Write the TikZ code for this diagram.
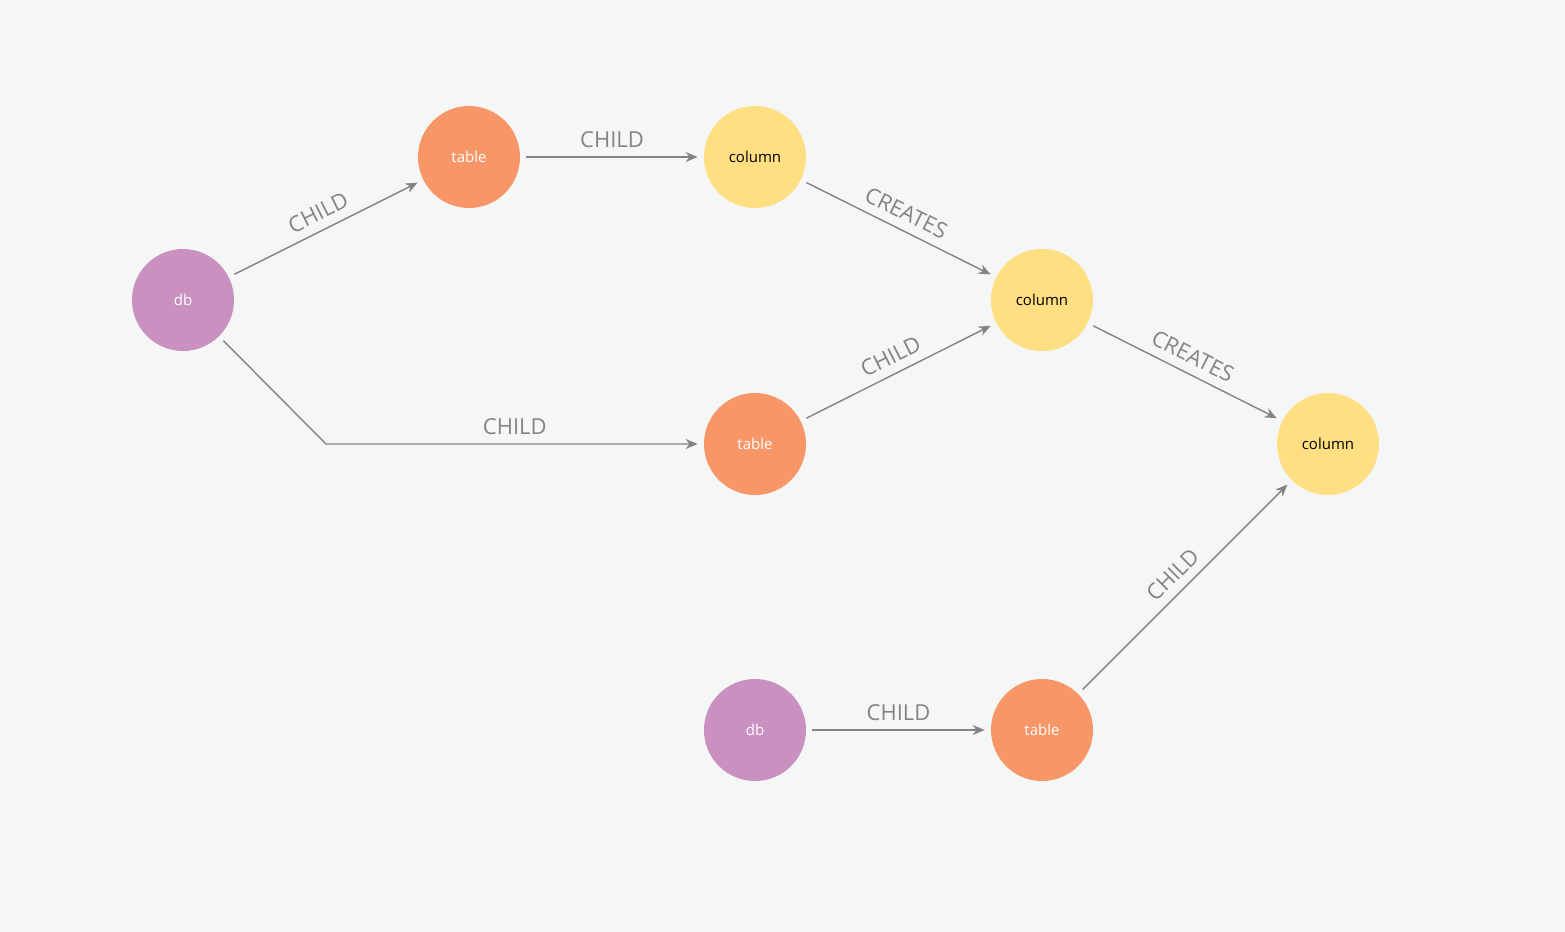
\documentclass[tikz,border=0pt]{standalone}
\usepackage{fontspec}
\setmainfont{Open Sans}
\usetikzlibrary{arrows.meta}
\definecolor{bgcol}{HTML}{F5F6F6}
\definecolor{dbcol}{HTML}{C990C0}
\definecolor{tablecol}{HTML}{F79767}
\definecolor{columncol}{HTML}{FFDF81}
\definecolor{edgecol}{HTML}{848484}
\begin{document}
\begin{tikzpicture}[
    x=0.5pt, y=-0.5pt,
    circ/.style={circle,minimum size=51pt,inner sep=0pt,font=\fontsize{7.5}{9}\selectfont},
    db/.style={circ,fill=dbcol,text=white},
    tbl/.style={circ,fill=tablecol,text=white},
    col/.style={circ,fill=columncol,text=black},
    rel/.style={draw=edgecol,line width=0.7pt,-{Stealth[length=6pt,width=5pt]},
      shorten <=3pt,shorten >=3pt},
    lbl/.style={sloped,above=1pt,text=edgecol,font=\fontsize{11}{13}\selectfont}]
 \fill[bgcol] (0,0) rectangle (1565,932);
 \node[db]  (db1) at (183,300) {db};
 \node[tbl] (t1)  at (469,157) {table};
 \node[col] (c1)  at (755,157) {column};
 \node[col] (c2)  at (1042,300) {column};
 \node[tbl] (t2)  at (755,444) {table};
 \node[col] (c3)  at (1328,444) {column};
 \node[db]  (db2) at (755,730) {db};
 \node[tbl] (t3)  at (1042,730) {table};
 \coordinate (bend) at (326,444);
 % relations
 \draw[rel] (db1) -- node[lbl] {CHILD} (t1);
 \draw[rel] (t1) -- node[lbl] {CHILD} (c1);
 \draw[rel] (c1) -- node[lbl] {CREATES} (c2);
 \draw[rel] (t2) -- node[lbl] {CHILD} (c2);
 \draw[rel] (c2) -- node[lbl] {CREATES} (c3);
 \draw[rel] (db1) -- (bend) -- node[lbl] {CHILD} (t2);
 \draw[rel] (db2) -- node[lbl] {CHILD} (t3);
 \draw[rel] (t3) -- node[lbl] {CHILD} (c3);
\end{tikzpicture}
\end{document}
